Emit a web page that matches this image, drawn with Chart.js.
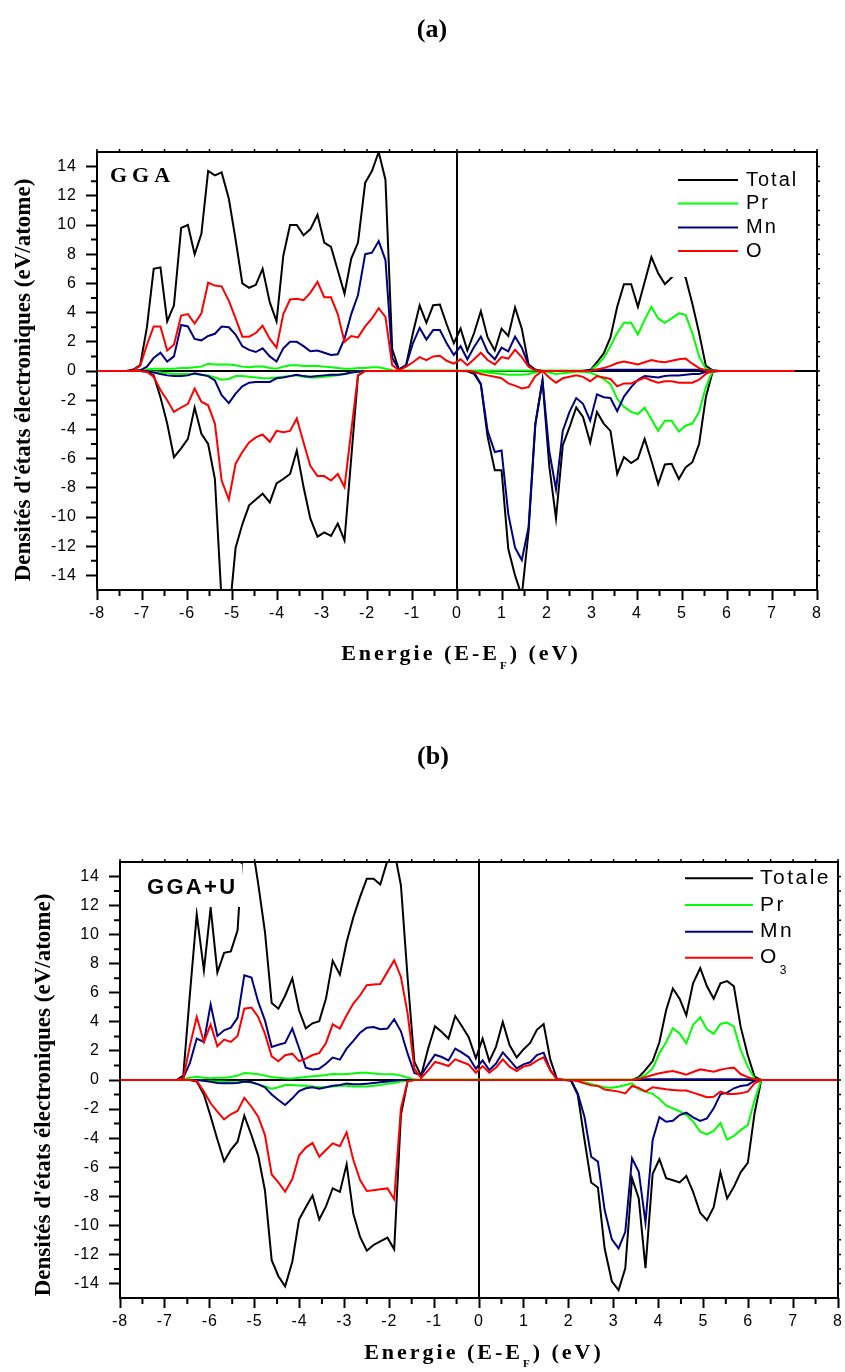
<!DOCTYPE html>
<html>
<head>
<meta charset="utf-8">
<script src="https://cdn.jsdelivr.net/npm/chart.js@4.4.1/dist/chart.umd.min.js"></script>
<style>
  html, body { margin: 0; padding: 0; background: #fff; }
  body { width: 845px; height: 1372px; position: relative; overflow: hidden; }
  canvas { position: absolute; left: 0; }
  #dosA { top: 0; }
  #dosB { top: 700px; }
</style>
</head>
<body>
<canvas id="dosA" width="845" height="700"></canvas>
<canvas id="dosB" width="845" height="672"></canvas>
<script>
// Grille d'énergie commune (eV), E - EF
const energie = [
  -7.35, -7.19, -7.04, -6.89, -6.74, -6.59, -6.44, -6.29, -6.13, -5.98,
  -5.83, -5.68, -5.53, -5.38, -5.23, -5.07, -4.92, -4.77, -4.62, -4.47,
  -4.32, -4.16, -4.01, -3.86, -3.71, -3.56, -3.41, -3.26, -3.10, -2.95,
  -2.80, -2.65, -2.50, -2.35, -2.20, -2.04, -1.89, -1.74, -1.59, -1.44,
  -1.29, -1.13, -0.98, -0.83, -0.68, -0.53, -0.38, -0.23, -0.07, 0.08,
  0.23, 0.38, 0.53, 0.68, 0.84, 0.99, 1.14, 1.29, 1.44, 1.59,
  1.74, 1.90, 2.05, 2.20, 2.35, 2.50, 2.65, 2.80, 2.96, 3.11,
  3.26, 3.41, 3.56, 3.71, 3.87, 4.02, 4.17, 4.32, 4.47, 4.62,
  4.77, 4.93, 5.08, 5.23, 5.38, 5.53, 5.68, 5.83, 5.99, 6.14,
  6.29, 6.44
];

// (a) GGA : spin haut (positif) et spin bas (négatif)
const totalHautA = [
  0, 0.1, 0.4, 3.0, 7.0, 7.1, 3.4, 4.5, 9.8, 10.0,
  8.0, 9.4, 13.7, 13.4, 13.6, 11.8, 9.0, 6.0, 5.7, 5.9,
  7.0, 4.7, 3.4, 7.9, 10.0, 10.0, 9.3, 9.7, 10.7, 8.8,
  8.5, 6.9, 5.3, 7.7, 8.8, 12.9, 13.7, 15.0, 13.1, 1.5,
  0.1, 0.4, 2.6, 4.5, 3.3, 4.5, 4.55, 3.2, 1.9, 2.9,
  1.4, 2.6, 4.1, 2.3, 1.4, 2.9, 2.4, 4.35, 2.9, 0.45,
  0.1, 0, 0, 0, 0, 0, 0, 0, 0.05, 0.6,
  1.2, 2.3, 4.4, 5.95, 5.95, 4.4, 6.1, 7.8, 6.7, 5.95,
  6.4, 7.0, 6.4, 4.6, 2.6, 0.35, 0.05, 0, 0, 0,
  0, 0
];
const totalBasA = [
  0, 0, 0, -0.05, -0.3, -1.8, -3.6, -5.9, -5.3, -4.65,
  -2.5, -4.3, -5.0, -7.4, -15.8, -17.0, -12.1, -10.5, -9.2, -8.8,
  -8.4, -9.0, -7.7, -7.4, -7.05, -5.45, -7.95, -10.1, -11.35, -11.05,
  -11.3, -10.45, -11.6, -5.95, -0.3, 0, 0, 0, 0, 0,
  0, 0, 0, 0, 0, 0, 0, 0, 0, 0,
  -0.02, -0.2, -0.9, -4.5, -6.8, -6.8, -12.2, -14.0, -15.4, -11.0,
  -3.7, -0.65, -6.5, -10.1, -5.1, -3.85, -2.5, -3.15, -4.9, -2.8,
  -3.6, -4.1, -7.05, -5.9, -6.3, -6.0, -4.65, -6.15, -7.75, -6.4,
  -6.35, -7.4, -6.6, -6.25, -5.0, -1.8, -0.05, 0, 0, 0,
  0, 0
];
const prHautA = [
  0, 0, 0.05, 0.1, 0.15, 0.15, 0.15, 0.15, 0.2, 0.2,
  0.25, 0.3, 0.5, 0.45, 0.45, 0.45, 0.4, 0.3, 0.25, 0.3,
  0.3, 0.2, 0.15, 0.3, 0.4, 0.4, 0.35, 0.35, 0.35, 0.3,
  0.25, 0.2, 0.15, 0.15, 0.2, 0.2, 0.25, 0.25, 0.15, 0.05,
  0.03, 0.03, 0.03, 0.03, 0.03, 0.03, 0.03, 0.03, 0.03, 0.03,
  0.03, 0.03, 0.03, 0.03, 0.03, 0.03, 0.03, 0.03, 0.03, 0.03,
  0.03, 0.03, 0.03, 0.03, 0.03, 0.03, 0.03, 0.03, 0.05, 0.4,
  0.9, 1.7, 2.6, 3.3, 3.3, 2.5, 3.5, 4.4, 3.6, 3.3,
  3.6, 3.95, 3.85, 2.6, 1.0, 0.15, 0.02, 0, 0, 0,
  0, 0
];
const prBasA = [
  0, 0, 0, 0, -0.05, -0.1, -0.15, -0.2, -0.2, -0.2,
  -0.2, -0.25, -0.3, -0.45, -0.6, -0.55, -0.35, -0.35, -0.4, -0.45,
  -0.5, -0.5, -0.45, -0.4, -0.35, -0.3, -0.4, -0.45, -0.45, -0.4,
  -0.35, -0.3, -0.2, -0.1, -0.05, 0, 0, 0, 0, 0,
  0, 0, 0, 0, 0, 0, 0, 0, 0, 0,
  0, -0.02, -0.05, -0.1, -0.15, -0.2, -0.25, -0.25, -0.25, -0.2,
  -0.1, 0, -0.1, -0.2, -0.15, -0.1, -0.05, -0.05, -0.1, -0.3,
  -0.55, -0.9, -1.9, -2.45, -2.8, -2.95, -2.5, -3.3, -4.1, -3.4,
  -3.4, -4.15, -3.75, -3.6, -2.8, -1.1, 0, 0, 0, 0,
  0, 0
];
const mnHautA = [
  0, 0.02, 0.05, 0.3, 0.9, 1.25, 0.65, 1.0, 3.15, 3.05,
  2.2, 2.1, 2.4, 2.55, 3.05, 3.0, 2.5, 1.7, 1.45, 1.3,
  1.55, 1.0, 0.65, 1.55, 2.0, 2.0, 1.7, 1.35, 1.4, 1.25,
  1.1, 1.15, 2.2, 3.9, 5.2, 8.0, 8.1, 8.9, 7.6, 0.9,
  0.1, 0.4, 1.9, 2.95, 2.15, 2.8, 2.8, 1.9, 1.1, 1.7,
  0.8, 1.65, 2.35, 1.3, 0.8, 1.6, 1.35, 2.35, 1.6, 0.4,
  0.05, 0, 0, 0, 0, 0, 0, 0, 0.08, 0.08,
  0.08, 0.08, 0.08, 0.08, 0.08, 0.08, 0.08, 0.08, 0.08, 0.08,
  0.08, 0.08, 0.08, 0.08, 0.08, 0.05, 0.02, 0, 0, 0,
  0, 0
];
const mnBasA = [
  0, 0, 0, 0, -0.1, -0.2, -0.3, -0.35, -0.35, -0.3,
  -0.15, -0.25, -0.35, -0.65, -1.65, -2.2, -1.55, -1.05, -0.8, -0.75,
  -0.75, -0.75, -0.5, -0.45, -0.35, -0.25, -0.35, -0.4, -0.35, -0.3,
  -0.25, -0.25, -0.2, -0.1, -0.05, 0, 0, 0, 0, 0,
  0, 0, 0, 0, 0, 0, 0, 0, 0, 0,
  0, -0.1, -0.9, -4.1, -5.55, -5.45, -9.8, -12.1, -12.95, -10.7,
  -3.6, -0.65, -5.5, -8.1, -4.1, -2.8, -1.85, -2.25, -3.4, -1.6,
  -1.8, -1.85, -2.75, -1.75, -1.1, -0.6, -0.35, -0.4, -0.45, -0.35,
  -0.3, -0.3, -0.25, -0.2, -0.2, -0.05, 0, 0, 0, 0,
  0, 0
];
const oHautA = [
  0, 0.05, 0.35, 1.8, 3.05, 3.05, 1.4, 1.8, 3.8, 3.9,
  3.25, 3.95, 6.05, 5.85, 5.8, 4.8, 3.6, 2.35, 2.35, 2.6,
  3.1, 2.2, 1.6, 3.9, 4.9, 4.95, 4.85, 5.35, 6.1, 5.05,
  5.05, 3.9, 2.0, 2.4, 2.3, 3.05, 3.6, 4.3, 3.7, 0.4,
  0.05, 0.3, 0.6, 0.95, 0.75, 1.0, 1.05, 0.7, 0.5, 0.8,
  0.4, 0.8, 1.25, 0.75, 0.45, 0.95, 0.85, 1.45, 0.95, 0.3,
  0.05, 0, 0, 0, 0, 0, 0, 0, 0.02, 0.1,
  0.2, 0.35, 0.55, 0.65, 0.55, 0.45, 0.6, 0.75, 0.65, 0.6,
  0.7, 0.8, 0.85, 0.5, 0.2, 0.05, 0, 0, 0, 0,
  0, 0
];
const oBasA = [
  0, 0, 0, -0.05, -0.4, -1.3, -2.0, -2.8, -2.5, -2.25,
  -1.2, -2.1, -2.35, -3.6, -7.5, -8.8, -6.35, -5.55, -4.9, -4.55,
  -4.35, -4.85, -4.1, -4.2, -4.1, -3.25, -4.9, -6.5, -7.2, -7.2,
  -7.5, -7.05, -7.95, -4.1, -0.3, 0, 0, 0, 0, 0,
  0, 0, 0, 0, 0, 0, 0, 0, 0, 0,
  0, -0.05, -0.2, -0.3, -0.4, -0.5, -0.85, -1.0, -1.2, -1.1,
  -0.35, 0, -0.45, -0.8, -0.5, -0.4, -0.3, -0.4, -0.7, -0.35,
  -0.45, -0.55, -1.05, -0.85, -0.85, -0.65, -0.45, -0.65, -0.8, -0.7,
  -0.7, -0.8, -0.8, -0.8, -0.6, -0.2, 0, 0, 0, 0,
  0, 0
];

// (b) GGA+U
const totalHautB = [
  0, 0, 0, 0, 0, 0.3, 6.0, 11.4, 7.55, 11.85,
  7.4, 8.75, 8.85, 10.3, 17.7, 16.5, 13.5, 10.2, 5.3, 4.9,
  5.8, 7.0, 4.8, 3.55, 3.9, 4.05, 5.6, 8.2, 7.25, 9.5,
  11.2, 12.6, 13.85, 13.85, 13.45, 15.1, 15.8, 13.4, 7.0, 1.25,
  0.3, 2.2, 3.7, 3.3, 2.85, 4.4, 3.7, 2.95, 1.5, 2.85,
  1.3, 2.3, 4.0, 2.4, 1.55, 2.1, 2.55, 3.45, 3.85, 1.4,
  0.05, 0, 0, 0, 0, 0, 0, 0, 0, 0,
  0, 0, 0.2, 0.7, 1.3, 2.6, 4.8, 6.3, 5.6, 4.45,
  6.65, 7.7, 6.45, 5.6, 6.65, 6.8, 6.45, 3.67, 1.7, 0.23,
  0, 0
];
const totalBasB = [
  0, 0, 0, 0, 0, 0, 0, -0.1, -1.0, -2.5,
  -4.1, -5.6, -4.8, -4.25, -2.45, -3.8, -5.2, -7.6, -12.4, -13.5,
  -14.2, -12.5, -9.6, -8.75, -7.95, -9.6, -8.7, -7.45, -7.7, -5.8,
  -9.2, -10.8, -11.75, -11.35, -11.1, -10.85, -11.65, -2.4, -0.07, 0,
  0, 0, 0, 0, 0, 0, 0, 0, 0, 0,
  0, 0, 0, 0, 0, 0, 0, 0, 0, 0,
  0, 0, -0.05, -1.0, -4.1, -7.05, -7.4, -11.6, -13.85, -14.45,
  -12.95, -6.75, -8.15, -12.95, -6.45, -5.45, -6.75, -6.9, -7.05, -6.6,
  -7.7, -9.15, -9.65, -8.75, -6.35, -8.15, -7.35, -6.35, -5.7, -2.3,
  0, 0
];
const prHautB = [
  0, 0, 0, 0, 0, 0.05, 0.15, 0.22, 0.15, 0.12,
  0.15, 0.15, 0.2, 0.3, 0.48, 0.45, 0.4, 0.3, 0.2, 0.15,
  0.12, 0.1, 0.15, 0.2, 0.25, 0.3, 0.35, 0.42, 0.4, 0.42,
  0.45, 0.5, 0.5, 0.45, 0.42, 0.4, 0.4, 0.3, 0.15, 0.05,
  0.02, 0.03, 0.03, 0.03, 0.03, 0.03, 0.03, 0.03, 0.03, 0.03,
  0.03, 0.03, 0.03, 0.03, 0.03, 0.03, 0.03, 0.03, 0.03, 0.03,
  0.03, 0.03, 0.03, 0.03, 0.03, 0.03, 0.03, 0.03, 0.03, 0.03,
  0.03, 0.03, 0.11, 0.35, 0.8, 1.84, 2.6, 3.56, 3.21, 2.53,
  3.79, 4.32, 3.49, 3.17, 3.86, 3.95, 3.67, 2.07, 0.92, 0.11,
  0, 0
];
const prBasB = [
  0, 0, 0, 0, 0, 0, 0, 0, -0.05, -0.08,
  -0.1, -0.12, -0.15, -0.15, -0.1, -0.15, -0.3, -0.45, -0.6, -0.5,
  -0.35, -0.35, -0.38, -0.4, -0.45, -0.5, -0.5, -0.45, -0.4, -0.4,
  -0.45, -0.45, -0.45, -0.4, -0.35, -0.25, -0.2, -0.1, -0.05, 0,
  0, 0, 0, 0, 0, 0, 0, 0, 0, 0,
  0, 0, 0, 0, 0, 0, 0, 0, 0, 0,
  0, 0, 0, -0.07, -0.16, -0.28, -0.39, -0.5, -0.53, -0.46,
  -0.34, -0.23, -0.65, -0.8, -0.95, -1.3, -1.75, -1.95, -2.15, -2.4,
  -2.85, -3.55, -3.75, -3.5, -2.95, -4.1, -3.85, -3.45, -3.1, -1.4,
  0, 0
];
const mnHautB = [
  0, 0, 0, 0, 0, 0.15, 1.2, 2.85, 2.62, 5.2,
  3.03, 3.42, 3.6, 4.27, 7.21, 7.05, 5.37, 4.1, 2.27, 2.43,
  2.55, 3.54, 2.2, 0.85, 0.73, 0.78, 1.12, 1.54, 1.4, 2.16,
  2.69, 3.26, 3.6, 3.65, 3.49, 3.54, 4.18, 3.35, 1.81, 0.48,
  0.32, 1.08, 1.74, 1.58, 1.35, 2.16, 1.88, 1.58, 0.78, 1.35,
  0.68, 1.13, 1.9, 1.38, 0.8, 1.08, 1.22, 1.72, 1.88, 0.69,
  0.05, 0, 0, 0, 0, 0, 0, 0, 0, 0,
  0, 0, 0.05, 0.05, 0.05, 0.05, 0.05, 0.05, 0.05, 0.05,
  0.05, 0.05, 0.05, 0.05, 0.05, 0.05, 0.05, 0.05, 0.05, 0.05,
  0, 0
];
const mnBasB = [
  0, 0, 0, 0, 0, 0, 0, 0, -0.05, -0.12,
  -0.2, -0.22, -0.22, -0.2, -0.1, -0.15, -0.3, -0.5, -1.0, -1.38,
  -1.72, -1.26, -0.76, -0.57, -0.5, -0.6, -0.5, -0.4, -0.35, -0.25,
  -0.3, -0.3, -0.25, -0.2, -0.15, -0.1, -0.05, 0, 0, 0,
  0, 0, 0, 0, 0, 0, 0, 0, 0, 0,
  0, 0, 0, 0, 0, 0, 0, 0, 0, 0,
  0, 0, 0, -0.92, -2.53, -5.28, -5.62, -8.95, -10.97, -11.59,
  -10.45, -5.39, -6.31, -9.8, -4.13, -2.55, -2.87, -2.8, -2.41, -2.25,
  -2.57, -2.82, -2.64, -1.95, -0.99, -0.87, -0.57, -0.41, -0.34, -0.05,
  0, 0
];
const oHautB = [
  0, 0, 0, 0, 0, 0.1, 2.4, 4.34, 2.62, 3.81,
  2.32, 2.78, 2.62, 3.03, 4.91, 4.98, 4.34, 3.19, 1.63, 1.29,
  1.7, 1.81, 1.3, 1.47, 1.72, 1.85, 2.55, 3.83, 3.54, 4.45,
  5.26, 5.83, 6.52, 6.57, 6.61, 7.44, 8.24, 7.09, 4.57, 0.78,
  0.14, 0.67, 1.24, 1.12, 0.96, 1.42, 1.24, 1.06, 0.5, 0.96,
  0.5, 0.85, 1.42, 0.92, 0.62, 0.92, 1.03, 1.33, 1.56, 0.64,
  0.05, 0, 0, 0, 0, 0, 0, 0, 0, 0,
  0, 0, 0.05, 0.2, 0.34, 0.46, 0.55, 0.62, 0.5, 0.37,
  0.55, 0.73, 0.65, 0.57, 0.7, 0.8, 0.85, 0.41, 0.2, 0.05,
  0, 0
];
const oBasB = [
  0, 0, 0, 0, 0, 0, 0, -0.07, -0.8, -1.6,
  -2.18, -2.71, -2.36, -2.13, -1.22, -1.84, -2.53, -3.79, -6.5, -7.05,
  -7.69, -6.82, -5.2, -4.65, -4.34, -5.28, -4.82, -4.36, -4.55, -3.6,
  -5.51, -6.89, -7.64, -7.58, -7.51, -7.46, -8.2, -1.95, -0.07, 0,
  0, 0, 0, 0, 0, 0, 0, 0, 0, 0,
  0, 0, 0, 0, 0, 0, 0, 0, 0, 0,
  0, 0, 0, -0.07, -0.23, -0.37, -0.41, -0.66, -0.73, -0.8,
  -0.92, -0.41, -0.55, -0.8, -0.5, -0.57, -0.64, -0.69, -0.73, -0.73,
  -0.87, -1.03, -1.19, -1.15, -0.8, -0.96, -0.96, -0.92, -0.8, -0.23,
  0, 0
];

// Bornes des tracés (les courbes partent de 0 aux extrémités)
const bornesA = [-8, 7.5];
const bornesB = [-8, 8];

// Graduations
const graduationsX = [-8, -7, -6, -5, -4, -3, -2, -1, 0, 1, 2, 3, 4, 5, 6, 7, 8];
const sousGraduationsX = [-7.5, -6.5, -5.5, -4.5, -3.5, -2.5, -1.5, -0.5, 0.5, 1.5, 2.5, 3.5, 4.5, 5.5, 6.5, 7.5];
const graduationsY = [-14, -12, -10, -8, -6, -4, -2, 0, 2, 4, 6, 8, 10, 12, 14];
const sousGraduationsY = [-13, -11, -9, -7, -5, -3, -1, 1, 3, 5, 7, 9, 11, 13];

const especesA = ['Total', 'Pr', 'Mn', 'O'];
const especesB = ['Totale', 'Pr', 'Mn', 'O'];
const couleurs = ['#000000', '#00ff00', '#000080', '#ff0000'];

const SERIF = '"Liberation Serif", "Times New Roman", serif';
const SANS = '"Liberation Sans", Arial, sans-serif';

function points(bornes, valeurs) {
  const pts = energie.map((e, i) => ({ x: e, y: valeurs[i] }));
  return [{ x: bornes[0], y: 0 }, ...pts, { x: bornes[1], y: 0 }];
}

// Une courbe spin haut + une courbe spin bas par espèce ; O dessiné au-dessus
function jeuxDeDonnees(noms, bornes, hauts, bas) {
  const ds = [];
  hauts.forEach((h, i) => {
    [h, bas[i]].forEach(v => {
      ds.push({
        label: noms[i],
        data: points(bornes, v),
        borderColor: couleurs[i],
        borderWidth: 2,
        pointRadius: 0,
        tension: 0,
        fill: false,
        clip: 0,
        order: 4 - i
      });
    });
  });
  return ds;
}

function ecrire(ctx, str, x, y, font, align, espace, base) {
  ctx.save();
  ctx.font = font;
  ctx.letterSpacing = (espace || 0) + 'px';
  ctx.textAlign = align || 'left';
  ctx.textBaseline = base || 'middle';
  ctx.fillStyle = '#000';
  ctx.fillText(str, x, y);
  ctx.restore();
}

// Titre de l'axe x avec E_F en indice
function titreX(ctx, cx, base, decal) {
  ctx.save();
  ctx.fillStyle = '#000';
  ctx.textAlign = 'left';
  ctx.textBaseline = 'alphabetic';
  ctx.letterSpacing = '3px';
  const grand = 'bold 22px ' + SERIF, petit = 'bold 11px ' + SERIF;
  const a = 'Energie (E-E', b = ') (eV)';
  ctx.font = grand;
  const wa = ctx.measureText(a).width, wb = ctx.measureText(b).width;
  ctx.font = petit;
  const wf = ctx.measureText('F').width;
  let x = cx - (wa + wf + wb) / 2;
  ctx.font = grand; ctx.fillText(a, x, base); x += wa;
  ctx.font = petit; ctx.fillText('F', x, base + decal); x += wf;
  ctx.font = grand; ctx.fillText(b, x, base);
  ctx.restore();
}

function decor(m) {
  return {
    id: 'decor' + m.nom,
    beforeDraw(chart) {
      chart.ctx.letterSpacing = '1px';
    },
    beforeDatasetsDraw(chart) {
      const { ctx, chartArea: a, scales: { x, y } } = chart;
      const y0 = y.getPixelForValue(0), x0 = x.getPixelForValue(0);
      ctx.save();
      ctx.strokeStyle = '#000';
      ctx.lineWidth = 2;
      ctx.beginPath();
      ctx.moveTo(a.left, y0); ctx.lineTo(a.right, y0);
      ctx.moveTo(x0, a.top); ctx.lineTo(x0, a.bottom);
      ctx.stroke();
      ctx.restore();
    },
    afterDatasetsDraw(chart) {
      const ctx = chart.ctx;
      const L = m.legende;
      ctx.save();
      ctx.fillStyle = '#fff';
      ctx.fillRect(L.boite[0], L.boite[1], L.boite[2], L.boite[3]);
      ctx.fillRect(m.etiquette.boite[0], m.etiquette.boite[1], m.etiquette.boite[2], m.etiquette.boite[3]);
      L.noms.forEach((nom, i) => {
        const y = L.lignes[i];
        ctx.strokeStyle = couleurs[i];
        ctx.lineWidth = 2;
        ctx.beginPath();
        ctx.moveTo(L.x0, y); ctx.lineTo(L.x1, y);
        ctx.stroke();
        ecrire(ctx, nom, L.xt, y, L.police, 'left', L.espace);
      });
      if (L.indice) {
        ctx.font = L.police;
        ctx.letterSpacing = L.espace + 'px';
        const w = ctx.measureText(L.noms[3]).width;
        ecrire(ctx, L.indice, L.xt + w + 1, L.lignes[3] + 16, '12px ' + SANS, 'left', 0, 'alphabetic');
      }
      ctx.restore();
      const e = m.etiquette;
      ecrire(ctx, e.texte, e.x, e.y, e.police, 'left', e.espace, 'alphabetic');
    },
    afterDraw(chart) {
      const { ctx, chartArea: a, scales: { x, y } } = chart;
      ctx.save();
      ctx.strokeStyle = '#000';
      ctx.lineWidth = 2;
      ctx.strokeRect(a.left, a.top, a.right - a.left, a.bottom - a.top);
      ctx.beginPath();
      // sous-graduations gauche / bas
      sousGraduationsY.forEach(v => {
        const p = y.getPixelForValue(v);
        ctx.moveTo(a.left - 6, p); ctx.lineTo(a.left, p);
      });
      sousGraduationsX.forEach(v => {
        const p = x.getPixelForValue(v);
        ctx.moveTo(p, a.bottom); ctx.lineTo(p, a.bottom + 6);
      });
      ctx.stroke();
      // petites marques à droite et en haut
      ctx.lineWidth = 1.5;
      ctx.beginPath();
      graduationsY.concat(sousGraduationsY).forEach(v => {
        const p = y.getPixelForValue(v);
        ctx.moveTo(a.right, p); ctx.lineTo(a.right + 3, p);
      });
      graduationsX.concat(sousGraduationsX).forEach(v => {
        const p = x.getPixelForValue(v);
        ctx.moveTo(p, a.top); ctx.lineTo(p, a.top - 3);
      });
      ctx.stroke();
      ctx.restore();

      ecrire(ctx, m.titre, m.titreX, m.titreY, 'bold 26px ' + SERIF, 'center', 0);
      titreX(ctx, m.axeX[0], m.axeX[1], m.axeX[2]);
      ctx.save();
      ctx.translate(m.axeY[0], m.axeY[1]);
      ctx.rotate(-Math.PI / 2);
      ecrire(ctx, "Densités d'états électroniques (eV/atome)", 0, 0, 'bold 23px ' + SERIF, 'center', 0, 'alphabetic');
      ctx.restore();
    }
  };
}

function graphique(id, m, datasets) {
  const canvas = document.getElementById(id);
  return new Chart(canvas.getContext('2d'), {
    type: 'line',
    data: { datasets },
    options: {
      responsive: false,
      animation: false,
      events: [],
      layout: { padding: m.marges },
      plugins: { legend: { display: false }, tooltip: { enabled: false } },
      scales: {
        x: {
          type: 'linear', min: -8, max: 8,
          afterBuildTicks: s => { s.ticks = graduationsX.map(v => ({ value: v })); },
          afterFit: s => { s.height = m.hauteurX; s.paddingLeft = 0; s.paddingRight = 0; },
          ticks: { color: '#000', font: { family: SANS, size: 16 }, padding: 4, maxRotation: 0, autoSkip: false },
          grid: { drawOnChartArea: false, tickLength: 10, tickWidth: 2, tickColor: '#000' },
          border: { display: false }
        },
        y: {
          type: 'linear', min: -15, max: 15,
          afterBuildTicks: s => { s.ticks = graduationsY.map(v => ({ value: v })); },
          afterFit: s => { s.width = m.largeurY; s.paddingTop = 0; s.paddingBottom = 0; },
          ticks: { color: '#000', font: { family: SANS, size: 16 }, padding: 9, autoSkip: false },
          grid: { drawOnChartArea: false, tickLength: 11, tickWidth: 2, tickColor: '#000' },
          border: { display: false }
        }
      }
    },
    plugins: [decor(m)]
  });
}

const miseA = {
  nom: 'A',
  marges: { top: 152, right: 28, bottom: 50, left: 0 },
  hauteurX: 60, largeurY: 97,
  titre: '(a)', titreX: 432, titreY: 30,
  axeX: [461, 660, 9],
  axeY: [30, 380],
  etiquette: { texte: 'GGA', x: 110, y: 182, police: 'bold 22px ' + SERIF, espace: 5, boite: [104, 160, 74, 28] },
  legende: {
    noms: especesA, lignes: [180, 203.5, 227.5, 251],
    x0: 678, x1: 738, xt: 746, police: '20px ' + SANS, espace: 2,
    boite: [670, 156, 145, 121]
  }
};

const miseB = {
  nom: 'B',
  marges: { top: 162, right: 7, bottom: 14, left: 0 },
  hauteurX: 60, largeurY: 120,
  titre: '(b)', titreX: 433, titreY: 57,
  axeX: [484, 659, 8],
  axeY: [50, 395],
  etiquette: { texte: 'GGA+U', x: 147, y: 194, police: 'bold 22px ' + SANS, espace: 2.3, boite: [140, 164, 102, 43] },
  legende: {
    noms: especesB, lignes: [178.3, 205, 231.7, 257.7], indice: '3',
    x0: 685, x1: 753, xt: 760, police: '21px ' + SANS, espace: 2.5,
    boite: [680, 164, 155, 98]
  }
};

graphique('dosA', miseA, jeuxDeDonnees(especesA, bornesA,
  [totalHautA, prHautA, mnHautA, oHautA], [totalBasA, prBasA, mnBasA, oBasA]));
graphique('dosB', miseB, jeuxDeDonnees(especesB, bornesB,
  [totalHautB, prHautB, mnHautB, oHautB], [totalBasB, prBasB, mnBasB, oBasB]));
</script>
</body>
</html>
